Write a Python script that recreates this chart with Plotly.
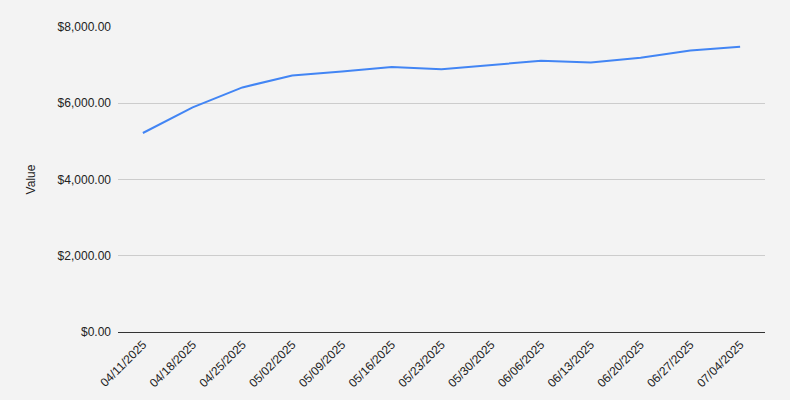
import plotly.graph_objects as go

dates = ["04/11/2025", "04/18/2025", "04/25/2025", "05/02/2025", "05/09/2025",
         "05/16/2025", "05/23/2025", "05/30/2025", "06/06/2025", "06/13/2025",
         "06/20/2025", "06/27/2025", "07/04/2025"]
values = [5220, 5890, 6415, 6730, 6835, 6950, 6890, 6995, 7115, 7070, 7195, 7385, 7485]
y_ticks = [0, 2000, 4000, 6000, 8000]
y_tick_labels = ["$0.00", "$2,000.00", "$4,000.00", "$6,000.00", "$8,000.00"]

fig = go.Figure(go.Scatter(
    x=dates, y=values, mode="lines",
    line=dict(color="#4285f4", width=2),
    hoverinfo="x+y",
))

fig.update_layout(
    width=790, height=400,
    margin=dict(l=118, r=25, t=27, b=68),
    paper_bgcolor="#f3f3f3", plot_bgcolor="#f3f3f3",
    font=dict(family="Liberation Sans, Arial, sans-serif", size=12, color="#222222"),
    showlegend=False,
    xaxis=dict(
        type="category", tickangle=-45, showgrid=False,
        range=[-0.5, len(dates) - 0.5], automargin=False,
        showline=True, linecolor="#333333", linewidth=1,
        ticks="", tickfont=dict(size=12, color="#222222"),
    ),
    yaxis=dict(
        range=[0, 8000], tickvals=y_ticks, ticktext=y_tick_labels,
        automargin=False,
        showgrid=True, gridcolor="#cccccc", gridwidth=1, zeroline=False,
        ticks="", ticklabelstandoff=6, tickfont=dict(size=12, color="#222222"),
        title=dict(text="Value", font=dict(size=12, color="#222222"), standoff=19),
    ),
)

fig.write_html(
    "out.html",
    config={"displayModeBar": False},
    post_script="document.body.style.margin='0';document.body.style.background='#f3f3f3';",
)
